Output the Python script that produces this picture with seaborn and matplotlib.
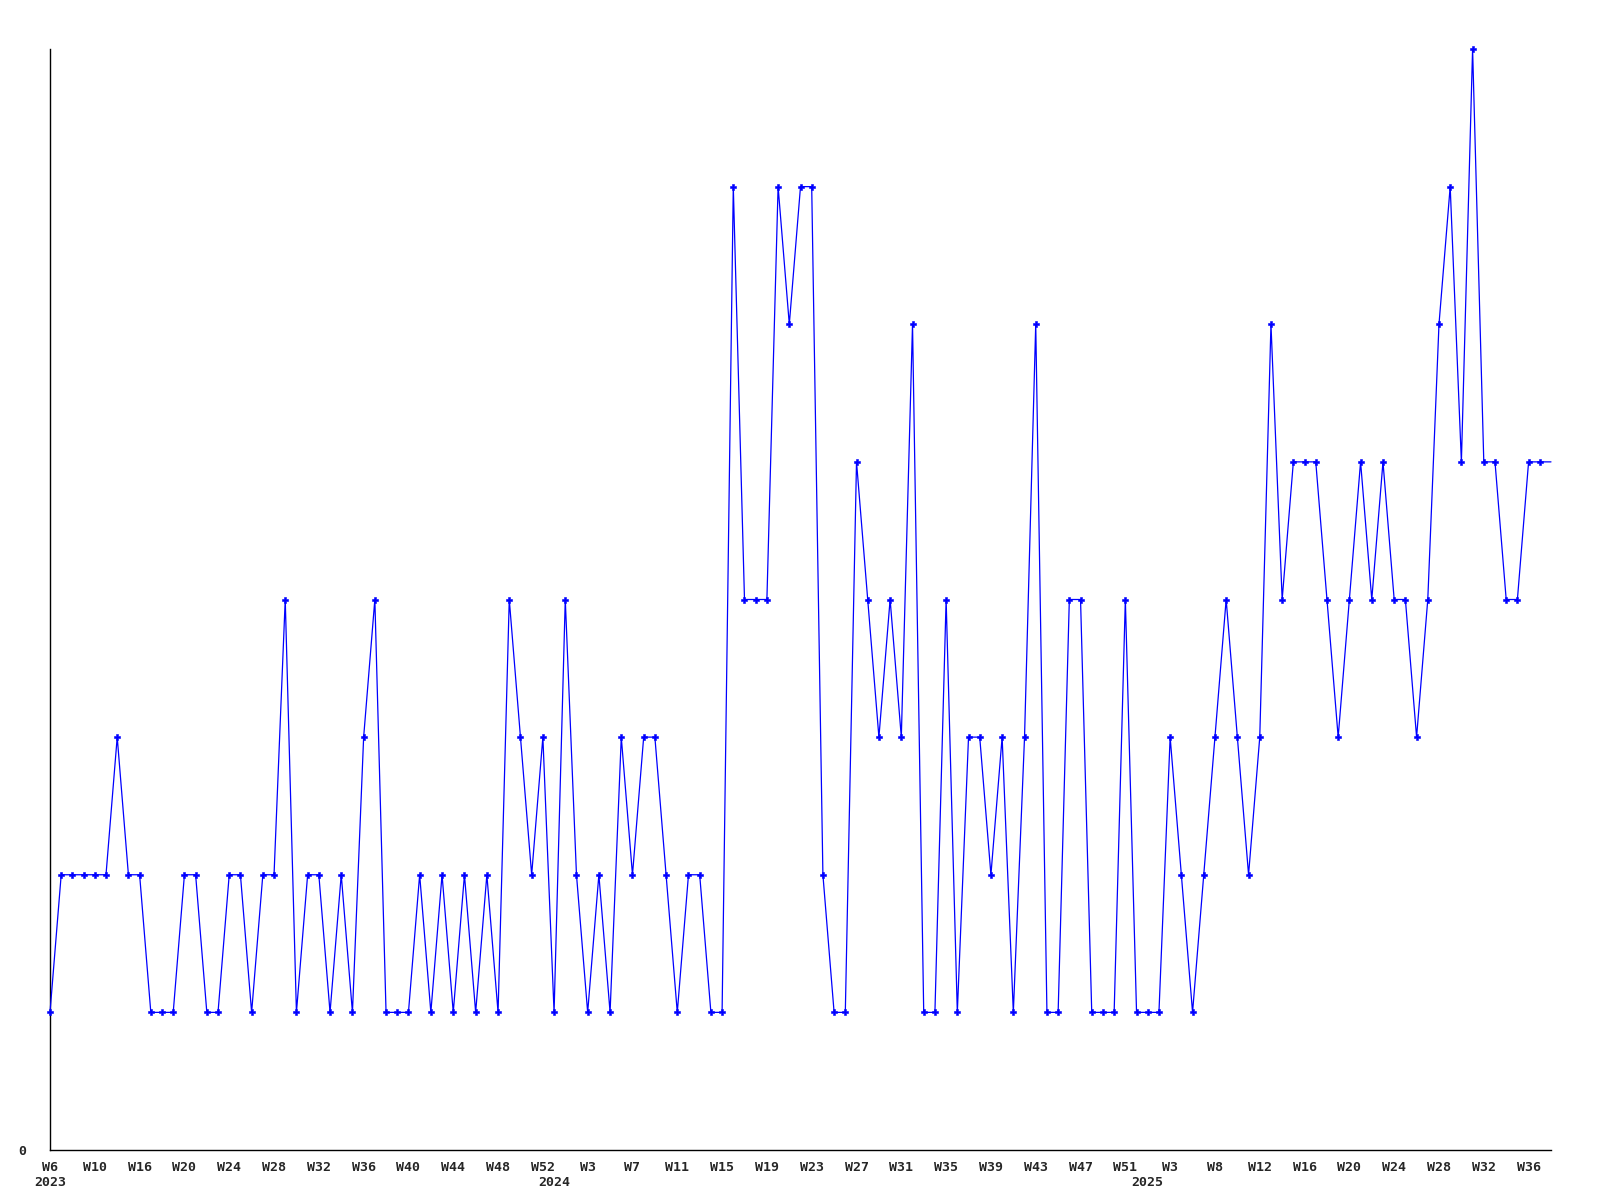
import matplotlib
matplotlib.use("Agg")
import matplotlib.pyplot as plt
import matplotlib.transforms as mtransforms
import seaborn as sns
import pandas as pd
import numpy as np

# weekly values (last value is the current, unmarked week)
values = [
    1, 2, 2, 2, 2, 2, 3, 2, 2, 1, 1, 1, 2, 2, 1, 1, 2, 2, 1, 2, 2, 4, 1, 2,
    2, 1, 2, 1, 3, 4, 1, 1, 1, 2, 1, 2, 1, 2, 1, 2, 1, 4, 3, 2, 3, 1, 4,
    2, 1, 2, 1, 3, 2, 3, 3, 2, 1, 2, 2, 1, 1, 7, 4, 4, 4, 7, 6, 7, 7, 2,
    1, 1, 5, 4, 3, 4, 3, 6, 1, 1, 4, 1, 3, 3, 2, 3, 1, 3, 6, 1, 1, 4, 4, 1,
    1, 1, 4, 1, 1, 1, 3, 2, 1, 2, 3, 4, 3, 2, 3, 6, 4, 5, 5, 5, 4, 3, 4,
    5, 4, 5, 4, 4, 3, 4, 6, 7, 5, 8, 5, 5, 4, 4, 5, 5,
    5,
]
week_labels = ["W6", "W10", "W16", "W20", "W24", "W28", "W32", "W36", "W40",
               "W44", "W48", "W52", "W3", "W7", "W11", "W15", "W19", "W23",
               "W27", "W31", "W35", "W39", "W43", "W47", "W51", "W3", "W8",
               "W12", "W16", "W20", "W24", "W28", "W32", "W36"]
label_step = 4
year_labels = ["2023", "2024", "2025"]
year_first_index = [0, 45, 98]

df = pd.DataFrame({"idx": np.arange(len(values)), "value": values})

sns.set_theme(style="white")
plt.rcParams["font.family"] = ["DejaVu Sans Mono", "DejaVu Sans"]

fig = plt.figure(figsize=(16, 12), dpi=100)
ax = fig.add_axes([50 / 1600, 1 - 1150 / 1200, (1551 - 50) / 1600, (1150 - 49) / 1200])

sns.lineplot(data=df, x="idx", y="value", ax=ax, color="#0000ff",
             linewidth=0.9, marker="P", markersize=4.2, markeredgewidth=0.4,
             markeredgecolor="#0000ff", clip_on=False, zorder=3,
             markevery=list(range(len(values) - 1)))

ax.set_xlim(0, len(values) - 1)
ax.set_ylim(0, 8)
for s in ["top", "right"]:
    ax.spines[s].set_visible(False)
for s in ["left", "bottom"]:
    ax.spines[s].set_color("black")
    ax.spines[s].set_linewidth(1.0)

ax.set_xticks([i * label_step for i in range(len(week_labels))])
ax.set_xticklabels(week_labels, fontsize=9.5, fontweight="bold")
ax.set_yticks([0])
ax.set_yticklabels(["0"], fontsize=9.5, fontweight="bold")
ax.tick_params(axis="x", length=0, pad=8)
ax.tick_params(axis="y", length=0, pad=17)
ax.set_xlabel("")
ax.set_ylabel("")

trans = mtransforms.blended_transform_factory(ax.transData, ax.transAxes)
for lab, pos in zip(year_labels, year_first_index):
    ax.text(pos, -0.0295, lab, transform=trans, ha="center", va="center",
            fontsize=9.5, fontweight="bold")

fig.savefig("out.png", dpi=100, facecolor="white")
